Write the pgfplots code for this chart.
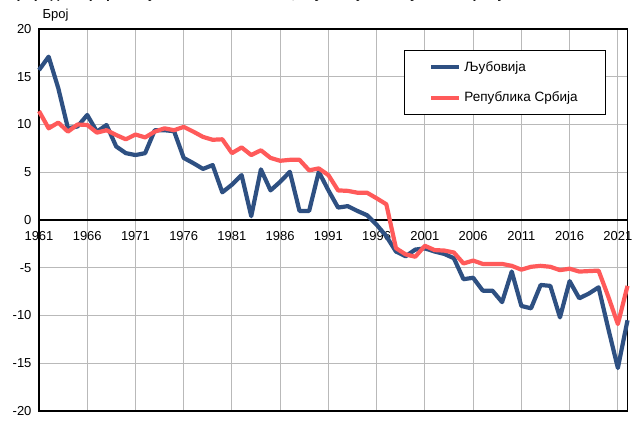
\documentclass[border=0pt]{standalone}
\usepackage{fontspec}
\setmainfont{Liberation Sans}
\usepackage{pgfplots}
\pgfplotsset{compat=1.18}
\usepackage{pgfplotstable}
\definecolor{lblue}{RGB}{46,80,130}
\definecolor{lred}{RGB}{255,90,90}
\definecolor{gridc}{RGB}{185,185,185}

\pgfplotstableread{
year val
1961 15.7
1962 17.1
1963 13.8
1964 9.6
1965 9.8
1966 11.0
1967 9.25
1968 9.95
1969 7.7
1970 7.0
1971 6.8
1972 7.0
1973 9.4
1974 9.4
1975 9.3
1976 6.5
1977 5.95
1978 5.35
1979 5.75
1980 2.9
1981 3.7
1982 4.7
1983 0.4
1984 5.3
1985 3.1
1986 4.0
1987 5.05
1988 0.95
1989 0.95
1990 5.05
1991 3.1
1992 1.3
1993 1.45
1994 0.95
1995 0.5
1996 -0.5
1997 -1.7
1998 -3.3
1999 -3.8
2000 -3.1
2001 -2.97
2002 -3.3
2003 -3.55
2004 -4.0
2005 -6.2
2006 -6.05
2007 -7.4
2008 -7.4
2009 -8.6
2010 -5.4
2011 -9.0
2012 -9.25
2013 -6.8
2014 -6.9
2015 -10.2
2016 -6.4
2017 -8.2
2018 -7.7
2019 -7.05
2020 -11.35
2021 -15.5
2022 -10.5
}\ljubovija

\pgfplotstableread{
year val
1961 11.4
1962 9.6
1963 10.2
1964 9.25
1965 10.0
1966 9.95
1967 9.15
1968 9.4
1969 8.9
1970 8.45
1971 8.95
1972 8.65
1973 9.25
1974 9.6
1975 9.4
1976 9.75
1977 9.25
1978 8.7
1979 8.4
1980 8.45
1981 7.0
1982 7.6
1983 6.8
1984 7.3
1985 6.5
1986 6.2
1987 6.3
1988 6.3
1989 5.2
1990 5.4
1991 4.7
1992 3.1
1993 3.05
1994 2.86
1995 2.86
1996 2.27
1997 1.65
1998 -2.95
1999 -3.6
2000 -3.85
2001 -2.7
2002 -3.15
2003 -3.2
2004 -3.4
2005 -4.55
2006 -4.25
2007 -4.6
2008 -4.6
2009 -4.6
2010 -4.8
2011 -5.2
2012 -4.9
2013 -4.8
2014 -4.9
2015 -5.25
2016 -5.1
2017 -5.4
2018 -5.35
2019 -5.3
2020 -8.0
2021 -10.9
2022 -6.9
}\srbija

\begin{document}
\begin{tikzpicture}
\begin{axis}[
  name=ax,
  scale only axis,
  width=588.5pt, height=382pt,
  xmin=1961, xmax=2022,
  ymin=-20, ymax=20,
  xtick={1961,1966,...,2021},
  ytick={-20,-15,...,20},
  major tick length=0pt,
  grid=major,
  grid style={gridc, line width=1pt},
  axis line style={black, line width=1.2pt},
  tick label style={font=\fontsize{13}{15}\selectfont},
  /pgf/number format/assume math mode=true,
  /pgf/number format/1000 sep={},
  yticklabel style={xshift=-4pt},
  xticklabel style={anchor=north, yshift=183.5pt},
  legend style={
    at={(rel axis cs:0.620,0.945)}, anchor=north west,
    draw=black, line width=1pt,
    font=\fontsize{13.5}{15.5}\selectfont,
    inner xsep=25pt, inner ysep=8pt,
    row sep=13pt,
    nodes={inner sep=3pt},
  },
  legend cell align=left,
  legend image code/.code={\draw[#1, line width=4pt] (0pt,0pt) -- (28pt,0pt);},
  clip=false,
]
\draw[black, line width=1.2pt] (axis cs:1961,0) -- (axis cs:2022,0);
\addplot[lblue, line width=4.2pt, line join=round, no marks] table[x=year, y=val] {\ljubovija};
\addlegendentry{Љубовија}
\addplot[lred, line width=4.2pt, line join=round, no marks] table[x=year, y=val] {\srbija};
\addlegendentry{Република Србија}
\end{axis}
\node[anchor=base west, font=\fontsize{13}{15}\selectfont] at ([xshift=0pt, yshift=10pt]ax.north west) {Број};
\node[anchor=base west, font=\bfseries\fontsize{14}{16}\selectfont] at ([xshift=-36pt, yshift=30.5pt]ax.north west) {Природни прираштај на 1000 становника, Љубовија и Република Србија};
\pgfresetboundingbox
\path[use as bounding box] ([xshift=-39pt, yshift=-19pt]ax.south west) rectangle ([xshift=5.5pt, yshift=29pt]ax.north east);
\end{tikzpicture}
\end{document}
